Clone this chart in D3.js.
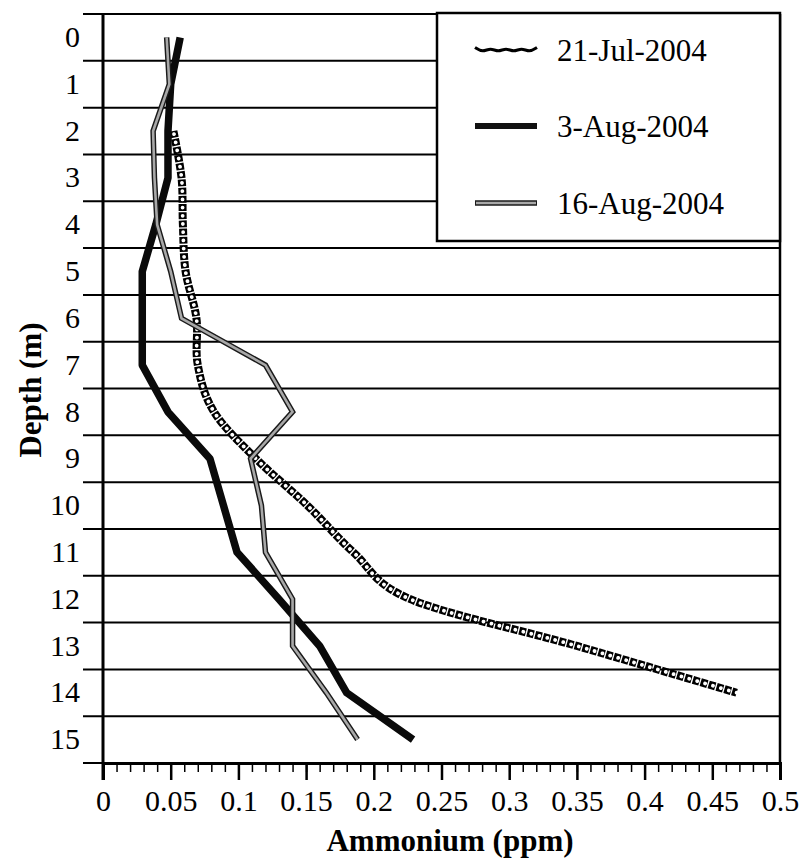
<!DOCTYPE html>
<html>
<head>
<meta charset="utf-8">
<script src="https://cdn.jsdelivr.net/npm/d3@7"></script>
<style>
  body { margin: 0; background: #fff; }
  svg { display: block; }
  svg text { font-family: "Liberation Serif", "Times New Roman", Times, "DejaVu Serif", serif !important; fill: #000; }
</style>
</head>
<body>
<svg id="chart" width="801" height="861"></svg>
<script>
// Depth categories (m), one band per metre
const depths = [0, 1, 2, 3, 4, 5, 6, 7, 8, 9, 10, 11, 12, 13, 14, 15];

// Ammonium (ppm) at each depth; null = no sample
const jul21 = [null, null, 0.052, 0.058, 0.059, 0.061, 0.069, 0.070, 0.082, 0.113, 0.151, 0.185, 0.227, 0.350, 0.468, null];
const aug03 = [0.057, 0.050, 0.048, 0.048, 0.039, 0.029, 0.029, 0.029, 0.048, 0.079, 0.089, 0.099, 0.130, 0.160, 0.180, 0.229];
const aug16 = [0.047, 0.049, 0.037, 0.038, 0.040, 0.050, 0.058, 0.120, 0.140, 0.109, 0.117, 0.120, 0.140, 0.140, 0.165, 0.188];

const seriesNames = ["21-Jul-2004", "3-Aug-2004", "16-Aug-2004"];
const xMajorTicks = [0, 0.05, 0.1, 0.15, 0.2, 0.25, 0.3, 0.35, 0.4, 0.45, 0.5];
const xTickLabels = ["0", "0.05", "0.1", "0.15", "0.2", "0.25", "0.3", "0.35", "0.4", "0.45", "0.5"];

const FONT = '"Liberation Serif", "Times New Roman", Times, "DejaVu Serif", serif';
const svg = d3.select("#chart").attr("font-family", FONT);
const L = 103, R = 780, T = 14, B = 763;

const x = d3.scaleLinear().domain([0, 0.5]).range([L, R]);
const y = d3.scaleBand().domain(depths).range([T, B]).padding(0);
const yc = d => y(d) + y.bandwidth() / 2;

svg.append("rect").attr("width", 801).attr("height", 861).attr("fill", "#fff");

// Horizontal gridlines at band boundaries (extending left as axis ticks)
const bounds = depths.map(d => y(d)).concat([B]);
svg.append("g").selectAll("line").data(bounds).join("line")
  .attr("x1", 83).attr("x2", R)
  .attr("y1", d => d).attr("y2", d => d)
  .attr("stroke", "#000").attr("stroke-width", 2);

// Right border
svg.append("line").attr("x1", R).attr("x2", R).attr("y1", T).attr("y2", B)
  .attr("stroke", "#000").attr("stroke-width", 2.5);

// Series lines
const rows = depths.map((d, i) => ({ d, jul: jul21[i], a3: aug03[i], a16: aug16[i] }));

const lineJul = d3.line().defined(r => r.jul != null)
  .x(r => x(r.jul)).y(r => yc(r.d)).curve(d3.curveCatmullRom.alpha(0));
const lineA3 = d3.line().x(r => x(r.a3)).y(r => yc(r.d));
const lineA16 = d3.line().x(r => x(r.a16)).y(r => yc(r.d));

const plot = svg.append("g");
// 21-Jul: chain of hollow rings
const julPath = lineJul(rows);
plot.append("path").attr("d", julPath).attr("fill", "none")
  .attr("stroke", "#000").attr("stroke-width", 8)
  .attr("stroke-dasharray", "6.8 1.4");
plot.append("path").attr("d", julPath).attr("fill", "none")
  .attr("stroke", "#fff").attr("stroke-width", 3.8)
  .attr("stroke-linecap", "round")
  .attr("stroke-dasharray", "0.01 8.2").attr("stroke-dashoffset", -3.4);

// 3-Aug: heavy black
plot.append("path").attr("d", lineA3(rows)).attr("fill", "none")
  .attr("stroke", "#0a0a0a").attr("stroke-width", 7.5)
  .attr("stroke-linejoin", "round");

// 16-Aug: grey with dark edges
const a16Path = lineA16(rows);
plot.append("path").attr("d", a16Path).attr("fill", "none")
  .attr("stroke", "#1a1a1a").attr("stroke-width", 5.5);
plot.append("path").attr("d", a16Path).attr("fill", "none")
  .attr("stroke", "#a8a8a8").attr("stroke-width", 2.6);

// Left axis line (runs past the bottom as the 0 major tick)
svg.append("line").attr("x1", L).attr("x2", L).attr("y1", T).attr("y2", B + 17)
  .attr("stroke", "#000").attr("stroke-width", 3);

// Y axis labels at band centres
const yAxis = d3.axisLeft(y).tickSize(0).tickPadding(23);
const gy = svg.append("g").attr("transform", `translate(${L},0)`).call(yAxis);
gy.attr("font-family", FONT);
gy.select(".domain").remove();
gy.selectAll("text").style("font-size", "30px").attr("fill", "#000");

// X axis: minor ticks every 0.01, major every 0.05
const gxMinor = svg.append("g").attr("transform", `translate(0,${B})`)
  .call(d3.axisBottom(x).tickValues(d3.range(0, 51).map(i => i / 100)).tickSize(9).tickFormat(""));
gxMinor.select(".domain").remove();
gxMinor.selectAll("line").attr("stroke-width", 1.5);

const gx = svg.append("g").attr("transform", `translate(0,${B})`)
  .call(d3.axisBottom(x).tickValues(xMajorTicks).tickSize(17).tickPadding(10)
    .tickFormat((d, i) => xTickLabels[i]));
gx.attr("font-family", FONT);
gx.select(".domain").attr("stroke-width", 3);
gx.selectAll("line").attr("stroke-width", 2.5);
gx.selectAll("text").style("font-size", "30px").attr("fill", "#000");

// Axis titles
svg.append("text").attr("transform", "translate(30,390) rotate(-90)")
  .attr("text-anchor", "middle").attr("dominant-baseline", "central")
  .style("font-size", "31px").style("font-weight", "bold").text("Depth (m)");
svg.append("text").attr("x", 450).attr("y", 851).attr("text-anchor", "middle")
  .style("font-size", "31px").style("font-weight", "bold").text("Ammonium (ppm)");

// Legend
const lg = svg.append("g");
lg.append("rect").attr("x", 437).attr("y", 13).attr("width", R - 437).attr("height", 228)
  .attr("fill", "#fff").attr("stroke", "#000").attr("stroke-width", 2.5);
const rowY = [50, 126, 203];
const sx0 = 475, sx1 = 537;

// 21-Jul sample: small wavy line
const wave = d3.range(0, 9).map(i => [sx0 + i * (sx1 - sx0) / 8, rowY[0] + (i % 2 ? 2.5 : -2.5)]);
lg.append("path").attr("d", d3.line().curve(d3.curveBasis)(wave)).attr("fill", "none")
  .attr("stroke", "#000").attr("stroke-width", 3);
// 3-Aug sample
lg.append("line").attr("x1", sx0).attr("x2", sx1).attr("y1", rowY[1]).attr("y2", rowY[1])
  .attr("stroke", "#111").attr("stroke-width", 6);
// 16-Aug sample
lg.append("line").attr("x1", sx0).attr("x2", sx1).attr("y1", rowY[2]).attr("y2", rowY[2])
  .attr("stroke", "#1a1a1a").attr("stroke-width", 5.5);
lg.append("line").attr("x1", sx0 + 1).attr("x2", sx1 - 1).attr("y1", rowY[2]).attr("y2", rowY[2])
  .attr("stroke", "#a8a8a8").attr("stroke-width", 2.4);

lg.selectAll("text.lab").data(seriesNames).join("text").attr("class", "lab")
  .attr("x", 557).attr("y", (d, i) => rowY[i])
  .attr("dominant-baseline", "central")
  .style("font-size", "31px").text(d => d);
</script>
</body>
</html>
